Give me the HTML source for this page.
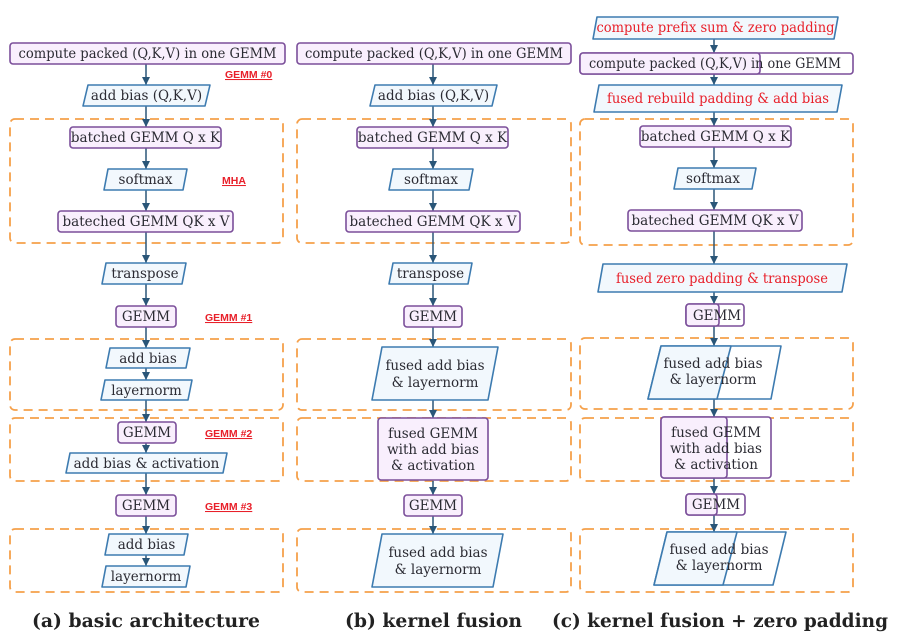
<!DOCTYPE html>
<html><head><meta charset="utf-8"><style>
html,body{margin:0;padding:0;background:#fff;}
svg{display:block;}
text{font-family:"DejaVu Serif","Liberation Serif",serif;font-size:13.5px;fill:#2b2b33;}
.r{fill:#e8202a;}
.lbl{font-family:"Liberation Sans",sans-serif;font-size:10.5px;font-weight:bold;fill:#e8202a;text-decoration:underline;}
.cap{font-family:"DejaVu Serif","Liberation Serif",serif;font-size:19px;font-weight:bold;fill:#222;}
.p{fill:#f9effd;stroke:#7b4f9a;stroke-width:1.6;}
.pw{fill:#fff;stroke:#7b4f9a;stroke-width:1.6;}
.b{fill:#f2f8fd;stroke:#3d7bb0;stroke-width:1.6;stroke-linejoin:round;}
.bw{fill:#fff;stroke:#3d7bb0;stroke-width:1.6;stroke-linejoin:round;}
.d{fill:none;stroke:#f5a04a;stroke-width:1.8;stroke-dasharray:9,6;}
.a{stroke:#2a5678;stroke-width:1.5;marker-end:url(#ah);}
</style></head><body>
<svg width="912" height="644" viewBox="0 0 912 644" xmlns="http://www.w3.org/2000/svg">
<defs><marker id="ah" markerWidth="9" markerHeight="9" refX="8" refY="4" orient="auto" markerUnits="userSpaceOnUse"><path d="M0,0 L8,4 L0,8 z" fill="#2a5678"/></marker></defs>

<g>
<rect class="d" x="10" y="119" width="273" height="124" rx="5"/>
<rect class="d" x="10" y="339" width="273" height="71" rx="5"/>
<rect class="d" x="10" y="418" width="273" height="63" rx="5"/>
<rect class="d" x="10" y="529" width="273" height="63" rx="5"/>
<rect class="d" x="297" y="119" width="274" height="124" rx="5"/>
<rect class="d" x="297" y="339" width="274" height="71" rx="5"/>
<rect class="d" x="297" y="418" width="274" height="63" rx="5"/>
<rect class="d" x="297" y="529" width="274" height="63" rx="5"/>
<rect class="d" x="580" y="119" width="273" height="126" rx="5"/>
<rect class="d" x="580" y="338" width="273" height="71" rx="5"/>
<rect class="d" x="580" y="418" width="273" height="63" rx="5"/>
<rect class="d" x="580" y="529" width="273" height="63" rx="5"/>
</g>

<g>
<line class="a" x1="146" y1="64" x2="146" y2="85"/>
<line class="a" x1="146" y1="106" x2="146" y2="127"/>
<line class="a" x1="146" y1="148" x2="146" y2="169"/>
<line class="a" x1="146" y1="190" x2="146" y2="211"/>
<line class="a" x1="146" y1="232" x2="146" y2="263"/>
<line class="a" x1="146" y1="284" x2="146" y2="306"/>
<line class="a" x1="146" y1="327" x2="146" y2="348"/>
<line class="a" x1="146" y1="368" x2="146" y2="380"/>
<line class="a" x1="146" y1="400" x2="146" y2="422"/>
<line class="a" x1="146" y1="443" x2="146" y2="453"/>
<line class="a" x1="146" y1="473" x2="146" y2="495"/>
<line class="a" x1="146" y1="516" x2="146" y2="534"/>
<line class="a" x1="146" y1="555" x2="146" y2="566"/>

<line class="a" x1="433" y1="64" x2="433" y2="85"/>
<line class="a" x1="433" y1="106" x2="433" y2="127"/>
<line class="a" x1="433" y1="148" x2="433" y2="169"/>
<line class="a" x1="433" y1="190" x2="433" y2="211"/>
<line class="a" x1="433" y1="232" x2="433" y2="263"/>
<line class="a" x1="433" y1="284" x2="433" y2="306"/>
<line class="a" x1="433" y1="327" x2="433" y2="347"/>
<line class="a" x1="433" y1="400" x2="433" y2="418"/>
<line class="a" x1="433" y1="481" x2="433" y2="495"/>
<line class="a" x1="433" y1="516" x2="433" y2="534"/>

<line class="a" x1="714" y1="39" x2="714" y2="53"/>
<line class="a" x1="714" y1="74" x2="714" y2="85"/>
<line class="a" x1="714" y1="112" x2="714" y2="126"/>
<line class="a" x1="714" y1="147" x2="714" y2="168"/>
<line class="a" x1="714" y1="189" x2="714" y2="210"/>
<line class="a" x1="714" y1="231" x2="714" y2="264"/>
<line class="a" x1="714" y1="292" x2="714" y2="304"/>
<line class="a" x1="714" y1="326" x2="714" y2="346"/>
<line class="a" x1="714" y1="399" x2="714" y2="417"/>
<line class="a" x1="714" y1="478" x2="714" y2="494"/>
<line class="a" x1="714" y1="515" x2="714" y2="532"/>
</g>

<!-- Column A -->
<rect class="p" x="10" y="43" width="275" height="21" rx="3"/>
<text x="147.5" y="58" text-anchor="middle" textLength="258" lengthAdjust="spacingAndGlyphs">compute packed (Q,K,V) in one GEMM</text>
<text class="lbl" x="225" y="78">GEMM #0</text>
<polygon class="b" points="88,85 210,85 205,106 83,106"/>
<text x="146.5" y="100" text-anchor="middle">add bias (Q,K,V)</text>
<rect class="p" x="70" y="127" width="151" height="21" rx="3"/>
<text x="145.5" y="142" text-anchor="middle">batched GEMM Q x K</text>
<polygon class="b" points="108,169 187,169 183,190 104,190"/>
<text x="145.5" y="184" text-anchor="middle">softmax</text>
<text class="lbl" x="222" y="184">MHA</text>
<rect class="p" x="58" y="211" width="175" height="21" rx="3"/>
<text x="146" y="226" text-anchor="middle">bateched GEMM QK x V</text>
<polygon class="b" points="106,263 186,263 182,284 102,284"/>
<text x="145" y="278" text-anchor="middle">transpose</text>
<rect class="p" x="116" y="306" width="60" height="21" rx="3"/>
<text x="146" y="321" text-anchor="middle">GEMM</text>
<text class="lbl" x="205" y="321">GEMM #1</text>
<polygon class="b" points="110,348 190,348 186,368 106,368"/>
<text x="148" y="363" text-anchor="middle">add bias</text>
<polygon class="b" points="105,380 192,380 188,400 101,400"/>
<text x="146.5" y="395" text-anchor="middle">layernorm</text>
<rect class="p" x="118" y="422" width="58" height="21" rx="3"/>
<text x="147" y="437" text-anchor="middle">GEMM</text>
<text class="lbl" x="205" y="437">GEMM #2</text>
<polygon class="b" points="70,453 227,453 223,473 66,473"/>
<text x="146.5" y="468" text-anchor="middle">add bias &amp; activation</text>
<rect class="p" x="116" y="495" width="60" height="21" rx="3"/>
<text x="146" y="510" text-anchor="middle">GEMM</text>
<text class="lbl" x="205" y="510">GEMM #3</text>
<polygon class="b" points="109,534 188,534 184,555 105,555"/>
<text x="146.5" y="549" text-anchor="middle">add bias</text>
<polygon class="b" points="106,566 190,566 186,587 102,587"/>
<text x="146" y="581" text-anchor="middle">layernorm</text>
<text class="cap" x="146" y="627" text-anchor="middle" textLength="228" lengthAdjust="spacingAndGlyphs">(a) basic architecture</text>

<!-- Column B -->
<rect class="p" x="297" y="43" width="274" height="21" rx="3"/>
<text x="434" y="58" text-anchor="middle" textLength="258" lengthAdjust="spacingAndGlyphs">compute packed (Q,K,V) in one GEMM</text>
<polygon class="b" points="375,85 497,85 492,106 370,106"/>
<text x="433.5" y="100" text-anchor="middle">add bias (Q,K,V)</text>
<rect class="p" x="357" y="127" width="151" height="21" rx="3"/>
<text x="432.5" y="142" text-anchor="middle">batched GEMM Q x K</text>
<polygon class="b" points="393,169 473,169 469,190 389,190"/>
<text x="431" y="184" text-anchor="middle">softmax</text>
<rect class="p" x="346" y="211" width="174" height="21" rx="3"/>
<text x="433" y="226" text-anchor="middle">bateched GEMM QK x V</text>
<polygon class="b" points="393,263 472,263 468,284 389,284"/>
<text x="430.5" y="278" text-anchor="middle">transpose</text>
<rect class="p" x="404" y="306" width="58" height="21" rx="3"/>
<text x="433" y="321" text-anchor="middle">GEMM</text>
<polygon class="b" points="382,347 498,347 488,400 372,400"/>
<text x="435" y="370" text-anchor="middle">fused add bias</text>
<text x="435" y="387" text-anchor="middle">&amp; layernorm</text>
<rect class="p" x="378" y="418" width="110" height="62" rx="3"/>
<text x="433" y="438" text-anchor="middle">fused GEMM</text>
<text x="433" y="454" text-anchor="middle">with add bias</text>
<text x="433" y="470" text-anchor="middle">&amp; activation</text>
<rect class="p" x="404" y="495" width="58" height="21" rx="3"/>
<text x="433" y="510" text-anchor="middle">GEMM</text>
<polygon class="b" points="382,534 503,534 493,587 372,587"/>
<text x="438" y="557" text-anchor="middle">fused add bias</text>
<text x="438" y="574" text-anchor="middle">&amp; layernorm</text>
<text class="cap" x="433.5" y="627" text-anchor="middle" textLength="177" lengthAdjust="spacingAndGlyphs">(b) kernel fusion</text>

<!-- Column C -->
<polygon class="b" points="597,17 838,17 834,39 593,39"/>
<text class="r" x="715.5" y="32" text-anchor="middle" textLength="238" lengthAdjust="spacingAndGlyphs">compute prefix sum &amp; zero padding</text>
<rect class="pw" x="580" y="53" width="273" height="21" rx="3"/>
<rect class="p" x="580" y="53" width="180" height="21" rx="3"/>
<text x="715" y="68" text-anchor="middle" textLength="252" lengthAdjust="spacingAndGlyphs">compute packed (Q,K,V) in one GEMM</text>
<polygon class="b" points="599,85 842,85 837,112 594,112"/>
<text class="r" x="718" y="103" text-anchor="middle" textLength="222" lengthAdjust="spacingAndGlyphs">fused rebuild padding &amp; add bias</text>
<rect class="p" x="640" y="126" width="151" height="21" rx="3"/>
<text x="715.5" y="141" text-anchor="middle">batched GEMM Q x K</text>
<polygon class="b" points="678,168 756,168 752,189 674,189"/>
<text x="713" y="183" text-anchor="middle">softmax</text>
<rect class="p" x="628" y="210" width="174" height="21" rx="3"/>
<text x="715" y="225" text-anchor="middle">bateched GEMM QK x V</text>
<polygon class="b" points="603,264 847,264 842,292 598,292"/>
<text class="r" x="722" y="283" text-anchor="middle" textLength="212" lengthAdjust="spacingAndGlyphs">fused zero padding &amp; transpose</text>
<rect class="pw" x="686" y="304" width="58" height="22" rx="3"/>
<rect class="p" x="686" y="304" width="33" height="22" rx="3"/>
<text x="717" y="320" text-anchor="middle">GEMM</text>
<polygon class="bw" points="661,346 781,346 771,399 648,399"/>
<polygon class="b" points="661,346 731,346 717,399 648,399"/>
<text x="713" y="368" text-anchor="middle">fused add bias</text>
<text x="713" y="384" text-anchor="middle">&amp; layernorm</text>
<rect class="pw" x="661" y="417" width="110" height="61" rx="3"/>
<rect class="p" x="661" y="417" width="66" height="61" rx="3"/>
<text x="716" y="437" text-anchor="middle">fused GEMM</text>
<text x="716" y="453" text-anchor="middle">with add bias</text>
<text x="716" y="469" text-anchor="middle">&amp; activation</text>
<rect class="pw" x="686" y="494" width="59" height="21" rx="3"/>
<rect class="p" x="686" y="494" width="31" height="21" rx="3"/>
<text x="716" y="509" text-anchor="middle">GEMM</text>
<polygon class="bw" points="667,532 786,532 773,585 654,585"/>
<polygon class="b" points="667,532 737,532 723,585 654,585"/>
<text x="719" y="554" text-anchor="middle">fused add bias</text>
<text x="719" y="570" text-anchor="middle">&amp; layernorm</text>
<text class="cap" x="720" y="627" text-anchor="middle" textLength="336" lengthAdjust="spacingAndGlyphs">(c) kernel fusion + zero padding</text>
</svg>
</body></html>
